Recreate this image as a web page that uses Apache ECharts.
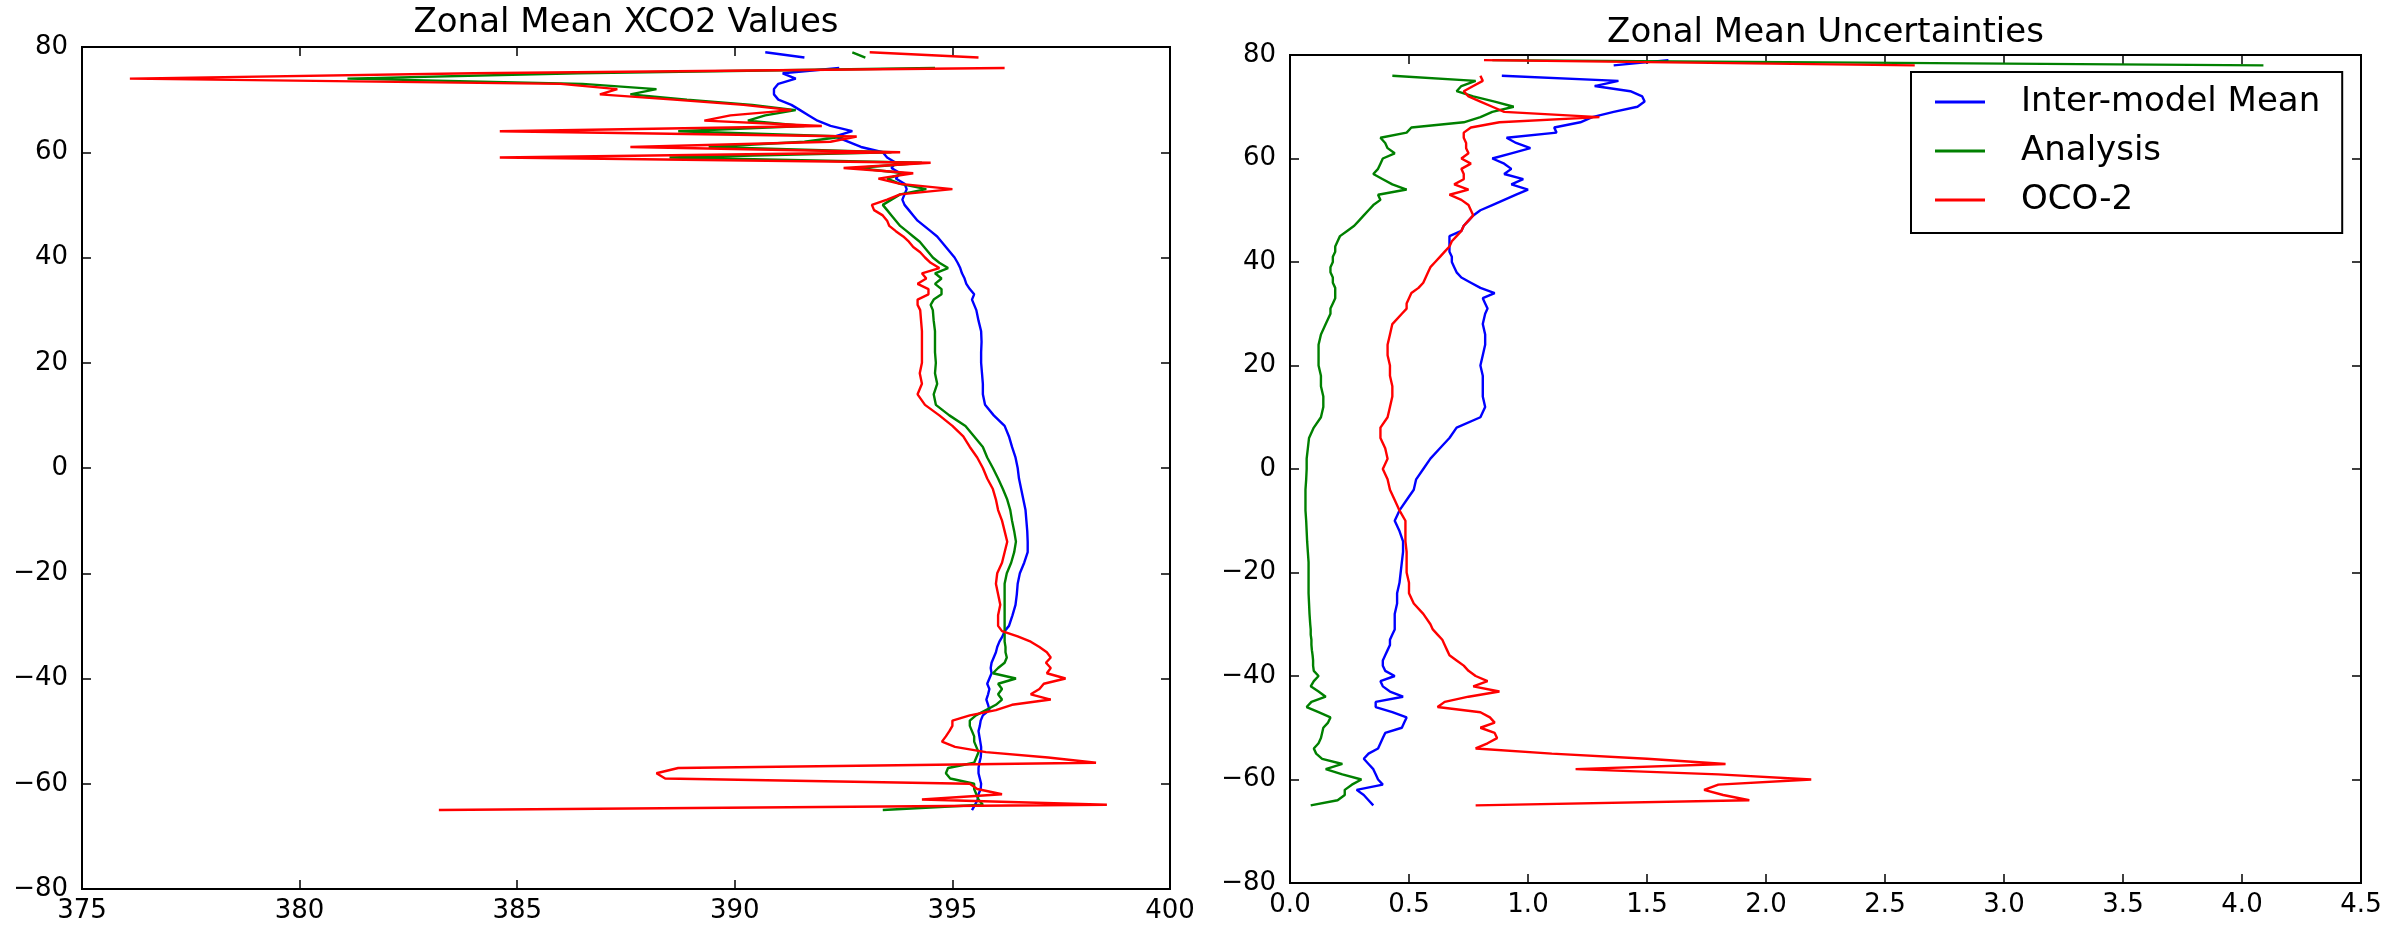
<!DOCTYPE html>
<html>
<head>
<meta charset="utf-8">
<script src="https://cdn.jsdelivr.net/npm/echarts@6/dist/echarts.min.js"></script>
<style>
html,body{margin:0;padding:0;background:#fff;}
#chart{width:2405px;height:930px;}
</style>
</head>
<body>
<div id="chart"></div>
<script>
// Latitude of each sample (shared by all series)
const lats = [79,78,77,
  76,75,74,73,72,71,70,69,68,67,
  66,65,64,63,62,61,60,59,58,57,
  56,55,54,53,52,51,50,49,48,47,
  46,45,44,43,42,41,40,39,38,37,
  36,35,34,33,32,31,30,
  28,26,24,22,20,18,16,14,12,10,
  8,6,4,2,0,-2,-4,-6,-8,-10,
  -12,-14,-16,-18,-20,-22,-24,-26,-28,
  -30,-31,-32,-33,-34,-35,-36,-37,-38,-39,
  -40,-41,-42,-43,-44,-45,-46,-47,-48,-49,
  -50,-51,-52,-53,-54,-55,-56,-57,-58,-59,
  -60,-61,-62,-63,-64,-65];

const seriesNames = ['Inter-model Mean', 'Analysis', 'OCO-2'];
const seriesColors = ['#0000ff', '#008000', '#ff0000'];

// Zonal mean XCO2 values (ppm)
const xco2Model = [390.7,391.6,null,
  392.4,391.1,391.4,391.0,390.9,390.9,391.0,391.3,391.5,391.7,
  391.9,392.2,392.7,392.3,392.6,392.9,393.4,393.5,393.7,393.6,
  393.8,393.7,393.9,393.95,393.9,393.85,393.9,394.0,394.1,394.2,
  394.35,394.5,394.65,394.75,394.85,394.95,395.05,395.12,395.18,395.22,
  395.28,395.32,395.4,395.5,395.45,395.5,395.55,
  395.6,395.66,395.67,395.66,395.66,395.68,395.7,395.7,395.75,395.95,
  396.2,396.3,396.37,396.45,396.5,396.53,396.58,396.63,396.68,396.7,
  396.72,396.73,396.73,396.65,396.55,396.5,396.48,396.45,396.38,
  396.3,396.2,396.15,396.08,396.03,396.0,395.95,395.9,395.88,395.9,
  395.85,395.8,395.85,395.82,395.78,395.82,395.85,395.7,395.65,395.63,
  395.6,395.62,395.64,395.66,395.66,395.65,395.62,395.6,395.6,395.63,
  395.66,395.65,395.6,395.58,395.52,395.45];

const xco2Analysis = [392.7,393.0,null,
  394.6,386.4,381.1,386.5,388.2,387.6,388.9,390.4,391.4,390.7,
  390.3,391.6,388.7,392.5,391.6,389.4,393.6,388.5,394.3,392.8,
  393.9,393.5,393.8,394.4,393.8,393.6,393.4,393.5,393.6,393.7,
  393.8,393.95,394.1,394.25,394.35,394.45,394.55,394.7,394.9,394.6,
  394.75,394.6,394.75,394.75,394.57,394.5,394.55,
  394.57,394.6,394.6,394.6,394.62,394.6,394.65,394.57,394.62,394.93,
  395.3,395.5,395.7,395.8,395.93,396.05,396.16,396.26,396.33,396.37,
  396.42,396.46,396.42,396.35,396.25,396.2,396.2,396.2,396.2,
  396.2,396.2,396.2,396.2,396.22,396.22,396.25,396.2,396.05,395.93,
  396.46,396.05,396.14,396.05,396.14,396.0,395.77,395.54,395.4,395.4,
  395.45,395.5,395.5,395.55,395.6,395.55,395.5,394.9,394.85,394.95,
  395.5,395.5,395.55,395.6,395.7,393.4];

const xco2Oco2 = [393.1,395.6,null,
  396.2,384.0,376.1,386.0,387.3,386.9,388.6,390.2,391.3,389.9,
  389.3,392.0,384.6,392.8,392.2,387.6,393.8,384.6,394.5,392.5,
  394.1,393.3,393.8,395.0,393.8,393.5,393.15,393.2,393.4,393.5,
  393.55,393.7,393.87,394.0,394.1,394.26,394.37,394.5,394.7,394.3,
  394.4,394.2,394.45,394.45,394.2,394.2,394.26,
  394.28,394.3,394.3,394.3,394.3,394.25,394.3,394.2,394.37,394.7,
  395.0,395.25,395.4,395.57,395.7,395.8,395.93,396.0,396.05,396.14,
  396.2,396.26,396.2,396.14,396.03,396.0,396.05,396.1,396.05,
  396.05,396.14,396.5,396.8,397.0,397.17,397.26,397.15,397.26,397.17,
  397.6,397.1,397.0,396.8,397.26,396.37,396.0,395.4,395.0,395.0,
  394.93,394.85,394.76,395.06,395.77,397.2,398.3,388.7,388.2,388.4,
  395.4,395.57,396.14,394.3,398.55,383.2];

// Zonal mean uncertainties (ppm)
const uncModel = [1.59,1.36,null,
  0.89,1.38,1.28,1.43,1.48,1.49,1.46,1.36,1.27,1.22,
  1.11,1.12,0.91,0.95,1.01,0.93,0.85,0.90,0.93,0.90,
  0.98,0.93,1.00,0.95,0.90,0.85,0.80,0.77,0.75,0.73,
  0.72,0.67,0.67,0.67,0.67,0.68,0.68,0.69,0.70,0.72,
  0.76,0.80,0.86,0.81,0.82,0.83,0.82,
  0.81,0.82,0.82,0.81,0.80,0.81,0.81,0.81,0.82,0.80,
  0.70,0.67,0.63,0.59,0.56,0.53,0.52,0.49,0.46,0.44,
  0.46,0.475,0.475,0.47,0.465,0.46,0.45,0.45,0.44,
  0.44,0.44,0.43,0.42,0.42,0.41,0.40,0.39,0.39,0.40,
  0.44,0.38,0.39,0.42,0.475,0.36,0.36,0.43,0.49,0.48,
  0.47,0.40,0.39,0.38,0.37,0.33,0.31,0.33,0.35,0.36,
  0.37,0.39,0.28,0.31,0.33,0.35];

const uncAnalysis = [0.85,4.09,null,
  0.43,0.78,0.72,0.70,0.77,0.86,0.94,0.85,0.80,0.73,
  0.51,0.49,0.38,0.40,0.41,0.44,0.39,0.38,0.37,0.35,
  0.39,0.43,0.49,0.37,0.38,0.35,0.33,0.31,0.29,0.27,
  0.24,0.21,0.20,0.19,0.19,0.18,0.18,0.17,0.17,0.18,
  0.18,0.19,0.19,0.19,0.18,0.17,0.17,
  0.15,0.13,0.12,0.12,0.12,0.13,0.13,0.14,0.14,0.13,
  0.10,0.08,0.075,0.07,0.07,0.068,0.065,0.065,0.065,0.068,
  0.07,0.072,0.075,0.078,0.078,0.078,0.078,0.08,0.082,
  0.085,0.087,0.087,0.09,0.09,0.092,0.095,0.097,0.097,0.10,
  0.12,0.10,0.087,0.12,0.15,0.09,0.07,0.12,0.17,0.16,
  0.14,0.135,0.13,0.12,0.10,0.11,0.135,0.22,0.15,0.22,
  0.30,0.26,0.23,0.23,0.20,0.087];

const uncOco2 = [0.815,2.625,null,
  0.80,0.81,0.77,0.73,0.75,0.80,0.85,0.90,1.30,0.88,
  0.76,0.73,0.73,0.74,0.74,0.75,0.72,0.76,0.72,0.73,
  0.73,0.69,0.75,0.67,0.72,0.75,0.76,0.77,0.75,0.73,
  0.72,0.70,0.68,0.67,0.65,0.63,0.61,0.59,0.58,0.57,
  0.56,0.54,0.51,0.50,0.49,0.49,0.47,
  0.43,0.42,0.41,0.41,0.42,0.42,0.43,0.43,0.42,0.41,
  0.38,0.38,0.40,0.41,0.39,0.41,0.42,0.44,0.46,0.485,
  0.485,0.485,0.49,0.49,0.49,0.50,0.50,0.52,0.56,
  0.59,0.60,0.62,0.64,0.65,0.66,0.67,0.70,0.73,0.75,
  0.78,0.83,0.77,0.88,0.75,0.65,0.62,0.80,0.84,0.86,
  0.80,0.86,0.87,0.83,0.78,1.10,1.50,1.83,1.20,1.80,
  2.19,1.80,1.74,1.82,1.93,0.78];

const titles = ['Zonal Mean XCO2 Values', 'Zonal Mean Uncertainties'];

const FONT = 'DejaVu Sans';
const minusFmt = v => String(v).replace('-', '\u2212');

function toPairs(vals) {
  return vals.map((v, i) => [v === null ? '-' : v, lats[i]]);
}

function xAxes(gridIndex, min, max, interval, fmt) {
  const common = {
    gridIndex, type: 'value', min, max, interval,
    splitLine: {show: false},
    axisLine: {show: true, onZero: false, lineStyle: {color: '#000', width: 2}},
    axisTick: {show: true, inside: true, length: 9, lineStyle: {color: '#000', width: 1.5}}
  };
  return [
    Object.assign({}, common, {position: 'bottom',
      axisLabel: {show: true, fontSize: 26, fontFamily: FONT, color: '#000', margin: 9,
        showMinLabel: true, showMaxLabel: true, formatter: fmt}}),
    Object.assign({}, common, {position: 'top', axisLabel: {show: false}})
  ];
}
function yAxes(gridIndex) {
  const common = {
    gridIndex, type: 'value', min: -80, max: 80, interval: 20,
    splitLine: {show: false},
    axisLine: {show: true, onZero: false, lineStyle: {color: '#000', width: 2}},
    axisTick: {show: true, inside: true, length: 9, lineStyle: {color: '#000', width: 1.5}}
  };
  return [
    Object.assign({}, common, {position: 'left',
      axisLabel: {show: true, fontSize: 26, fontFamily: FONT, color: '#000', margin: 14,
        showMinLabel: true, showMaxLabel: true, formatter: minusFmt}}),
    Object.assign({}, common, {position: 'right', axisLabel: {show: false}})
  ];
}

const leftVals = [xco2Model, xco2Analysis, xco2Oco2];
const rightVals = [uncModel, uncAnalysis, uncOco2];

const series = [];
leftVals.forEach((vals, k) => series.push({
  name: seriesNames[k], type: 'line', xAxisIndex: 0, yAxisIndex: 0,
  data: toPairs(vals), showSymbol: false, symbol: 'none', connectNulls: false,
  lineStyle: {color: seriesColors[k], width: 2.4}, itemStyle: {color: seriesColors[k]},
  emphasis: {disabled: true}, z: 2 + k
}));
rightVals.forEach((vals, k) => series.push({
  name: seriesNames[k], type: 'line', xAxisIndex: 2, yAxisIndex: 2,
  data: toPairs(vals), showSymbol: false, symbol: 'none', connectNulls: false,
  lineStyle: {color: seriesColors[k], width: 2.4}, itemStyle: {color: seriesColors[k]},
  emphasis: {disabled: true}, z: 2 + k
}));

const chart = echarts.init(document.getElementById('chart'), null, {renderer: 'canvas'});
chart.setOption({
  animation: false,
  backgroundColor: '#fff',
  title: [
    {text: titles[0], left: 626, top: 6, textAlign: 'center', padding: 0,
     textStyle: {fontSize: 34, fontWeight: 'normal', fontFamily: FONT, color: '#000'}},
    {text: titles[1], left: 1825.5, top: 16, textAlign: 'center', padding: 0,
     textStyle: {fontSize: 34, fontWeight: 'normal', fontFamily: FONT, color: '#000'}}
  ],
  legend: {
    data: seriesNames,
    orient: 'vertical',
    left: 1911, top: 72,
    padding: [12, 22, 15, 24],
    itemGap: 13,
    itemWidth: 50, itemHeight: 3,
    icon: 'rect',
    selectedMode: false,
    backgroundColor: '#fff',
    borderColor: '#000', borderWidth: 2, borderRadius: 0,
    textStyle: {fontSize: 34, fontFamily: FONT, color: '#000', lineHeight: 36, padding: [0, 0, 0, 31]}
  },
  grid: [
    {left: 82, top: 47, width: 1088, height: 842, show: true, borderColor: '#000', borderWidth: 2, backgroundColor: '#fff'},
    {left: 1290, top: 55, width: 1071, height: 828, show: true, borderColor: '#000', borderWidth: 2, backgroundColor: '#fff'}
  ],
  xAxis: [
    ...xAxes(0, 375, 400, 5, v => String(v)),
    ...xAxes(1, 0, 4.5, 0.5, v => v.toFixed(1))
  ],
  yAxis: [
    ...yAxes(0),
    ...yAxes(1)
  ],
  series
});
</script>
</body>
</html>
